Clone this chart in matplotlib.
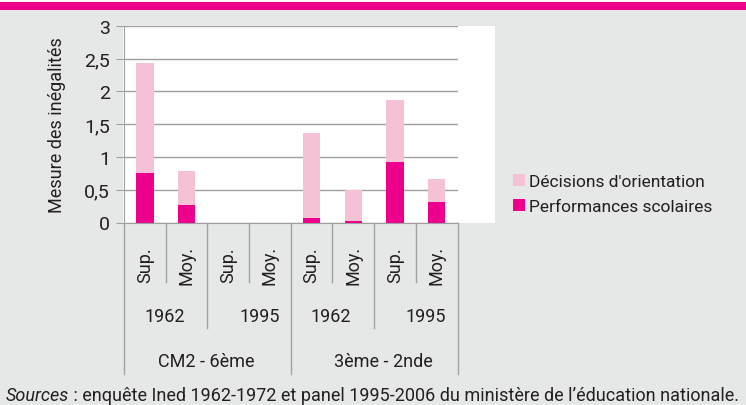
import matplotlib
matplotlib.use("Agg")
import matplotlib.pyplot as plt
import matplotlib.transforms as mtransforms
from matplotlib.patches import Rectangle
from matplotlib.lines import Line2D

plt.rcParams['font.family'] = ['Roboto', 'DejaVu Sans']

# ---- data ----
sub_labels = ["Sup.", "Moy.", "Sup.", "Moy.", "Sup.", "Moy.", "Sup.", "Moy."]
year_labels = ["1962", "1995", "1962", "1995"]
section_labels = ["CM2 - 6ème", "3ème - 2nde"]
performances = [0.76, 0.26, 0.0, 0.0, 0.07, 0.025, 0.92, 0.32]
decisions = [1.67, 0.52, 0.0, 0.0, 1.29, 0.465, 0.95, 0.34]
yticks = [0, 0.5, 1, 1.5, 2, 2.5, 3]
ytick_labels = ["0", "0,5", "1", "1,5", "2", "2,5", "3"]
series_names = ["Décisions d'orientation", "Performances scolaires"]
source_italic = "Sources"
source_rest = " : enquête Ined 1962-1972 et panel 1995-2006 du ministère de l’éducation nationale."

W, H = 746, 406
DARK = "#ec008c"
LIGHT = "#f5c1d6"
BG = "#e6e7e7"
GRID = "#a0a0a0"
TXT = "#231f20"
FS = 12.5

fig = plt.figure(figsize=(W / 100, H / 100), dpi=100, facecolor=BG)

def fx(px):
    return px / W

def fy(py):
    return 1 - py / H

# top magenta band
fig.add_artist(Rectangle((0, fy(11)), 1, (11 - 3.3) / H, transform=fig.transFigure,
                         facecolor=DARK, edgecolor="none", zorder=-2))
fig.add_artist(Rectangle((0, fy(3.3)), 1, 3.3 / H, transform=fig.transFigure,
                         facecolor="white", edgecolor="none", zorder=-2))
# white plot area
fig.add_artist(Rectangle((fx(123), fy(224)), fx(495 - 123), (224 - 27) / H,
                         transform=fig.transFigure, facecolor="white", edgecolor="none", zorder=-2))

x0, x1 = 124, 457.5
ytop, ybot = 26.7, 223.5
ax = fig.add_axes([fx(x0), fy(ybot), fx(x1 - x0), (ybot - ytop) / H])
ax.set_facecolor("white")

x = list(range(len(sub_labels)))
bw = 0.42
ax.bar(x, performances, width=bw, color=DARK, label=series_names[1], zorder=3)
ax.bar(x, decisions, width=bw, bottom=performances, color=LIGHT, label=series_names[0], zorder=3)

ax.set_xlim(-0.5, len(x) - 0.5)
ax.set_ylim(0, 3)
ax.set_yticks(yticks)
ax.set_yticklabels(ytick_labels, fontsize=FS + 1.5, color=TXT)
ax.tick_params(axis='y', length=6, color=GRID, pad=4)
ax.set_xticks([])
ax.set_axisbelow(True)
ax.grid(axis='y', color=GRID, linewidth=1)
for s in ["top", "right"]:
    ax.spines[s].set_visible(False)
ax.spines["left"].set_color(GRID)
ax.spines["bottom"].set_color(GRID)
ax.spines["bottom"].set_zorder(4)
ax.set_ylabel("Mesure des inégalités", fontsize=FS + 0.5, color=TXT, labelpad=13)

# category separators
tr = mtransforms.blended_transform_factory(ax.transData, fig.transFigure)
seps = {-0.5: 375, 0.5: 283, 1.5: 329, 2.5: 283, 3.5: 375, 4.5: 283, 5.5: 329, 6.5: 283, 7.5: 375}
for sx, end in seps.items():
    fig.add_artist(Line2D([sx, sx], [fy(ybot), fy(end)], transform=tr, color=GRID, linewidth=1))

for i, lab in enumerate(sub_labels):
    ax.text(i, fy(265), lab, transform=tr, rotation=90, ha="center", va="center",
            fontsize=FS + 0.5, color=TXT)

year_x = [165, 260, 331, 426]
for px, lab in zip(year_x, year_labels):
    fig.text(fx(px), fy(317), lab, ha="center", va="center", fontsize=FS + 0.5, color=TXT)

sec_x = [206, 383]
for px, lab in zip(sec_x, section_labels):
    fig.text(fx(px), fy(362), lab, ha="center", va="center", fontsize=FS + 0.5, color=TXT)

# legend
handles, labels = ax.get_legend_handles_labels()
leg = fig.legend(handles[::-1], labels[::-1], loc="center left",
                 bbox_to_anchor=(fx(506), fy(195)), frameon=False, fontsize=FS,
                 handlelength=0.7, handleheight=0.7, handletextpad=0.25,
                 labelspacing=0.55, borderaxespad=0)
for t in leg.get_texts():
    t.set_color(TXT)

# source line, sized to fit the width
fs_src = 14.0
while True:
    t1 = fig.text(fx(6), fy(396), source_italic, style="italic", ha="left", va="center",
                  fontsize=fs_src, color=TXT)
    fig.canvas.draw()
    bb = t1.get_window_extent()
    t2 = fig.text(bb.x1 / W, fy(396), source_rest, ha="left", va="center",
                  fontsize=fs_src, color=TXT)
    fig.canvas.draw()
    if t2.get_window_extent().x1 <= W - 3 or fs_src < 8:
        break
    t1.remove()
    t2.remove()
    fs_src -= 0.1

fig.savefig("out.png", dpi=100, facecolor=BG)
